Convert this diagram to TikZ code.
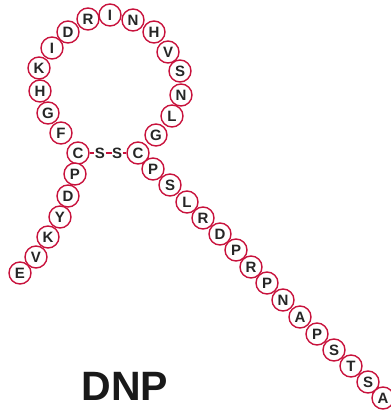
\documentclass[tikz,border=0pt]{standalone}
\usepackage{fontspec}
\setmainfont{Liberation Sans}
\definecolor{aared}{RGB}{200,18,60}
\begin{document}
\begin{tikzpicture}[x=1pt,y=-1pt,
  aa/.style={circle,draw=aared,line width=1.4pt,fill=white,minimum size=22pt,inner sep=0pt,font=\fontsize{15}{15}\selectfont\bfseries,text=black!85},
  sulf/.style={inner sep=0.3pt,font=\fontsize{15}{15}\selectfont\bfseries,text=black!85},
  bond/.style={draw=aared,line width=2pt}]
\useasboundingbox (0,0) rectangle (390,411);
% loop
\node[aa] (c1) at (78,153) {C};
\node[aa] (l1) at (61,133) {F};
\node[aa] (l2) at (48,113) {G};
\node[aa] (l3) at (40,91) {H};
\node[aa] (l4) at (39,68) {K};
\node[aa] (l5) at (52,48) {I};
\node[aa] (l6) at (68,32) {D};
\node[aa] (l7) at (88,19) {R};
\node[aa] (l8) at (110,15) {I};
\node[aa] (l9) at (133,20) {N};
\node[aa] (l10) at (154,32) {H};
\node[aa] (l11) at (168,52) {V};
\node[aa] (l12) at (180,71) {S};
\node[aa] (l13) at (181,95) {N};
\node[aa] (l14) at (172,116) {L};
\node[aa] (l15) at (156,135) {G};
\node[aa] (c2) at (138,153) {C};
% disulfide
\node[sulf] (s1) at (100,153) {S};
\node[sulf] (s2) at (117,153) {S};
\draw[bond] (c1) -- (s1);
\draw[bond] (s1) -- (s2);
\draw[bond] (s2) -- (c2);
% left tail
\node[aa] (a1) at (75,174) {P};
\node[aa] (a2) at (68,196) {D};
\node[aa] (a3) at (60,217) {Y};
\node[aa] (a4) at (48,237) {K};
\node[aa] (a5) at (36,257) {V};
\node[aa] (a6) at (20,273) {E};
% right tail
\node[aa] (b1) at (153,169) {P};
\node[aa] (b2) at (170,185) {S};
\node[aa] (b3) at (187,202) {L};
\node[aa] (b4) at (203,218) {R};
\node[aa] (b5) at (220,234) {D};
\node[aa] (b6) at (236,250) {P};
\node[aa] (b7) at (251,267) {R};
\node[aa] (b8) at (267,283) {P};
\node[aa] (b9) at (283,300) {N};
\node[aa] (b10) at (300,317) {A};
\node[aa] (b11) at (317,334) {P};
\node[aa] (b12) at (334,350) {S};
\node[aa] (b13) at (351,366) {T};
\node[aa] (b14) at (368,382) {S};
\node[aa] (b15) at (383,398) {A};
% title
\node[font=\fontsize{41}{41}\selectfont\bfseries,text=black!90] (title) at (125,386) {DNP};
\end{tikzpicture}
\end{document}
